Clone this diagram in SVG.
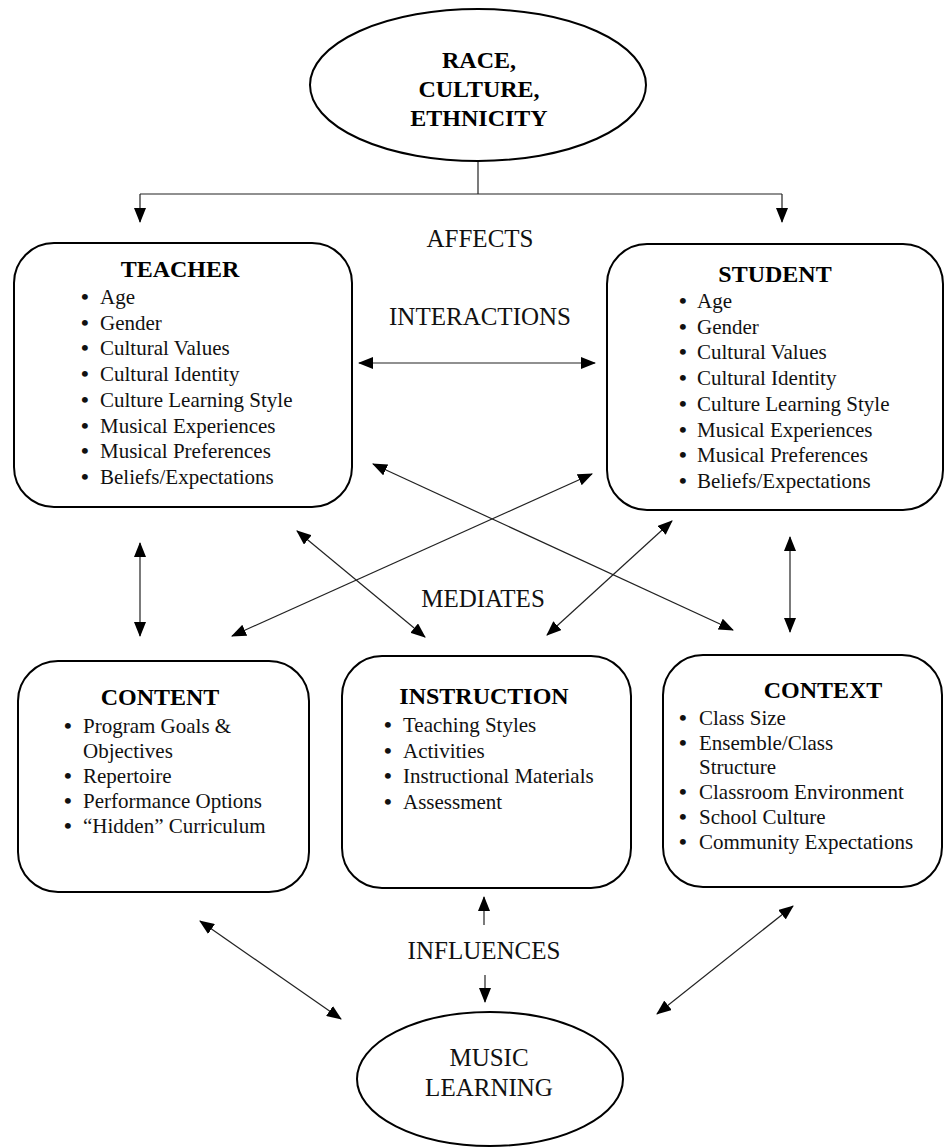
<svg xmlns="http://www.w3.org/2000/svg" width="945" height="1148" viewBox="0 0 945 1148">
<style>
.box{fill:#fff;stroke:#000;stroke-width:2}
.ell{fill:#fff;stroke:#000;stroke-width:2}
.ttl{font-family:"Liberation Serif","Times New Roman",serif;font-weight:bold;font-size:24px;text-anchor:middle;fill:#000}
.itm{font-family:"Liberation Serif","Times New Roman",serif;font-size:21px;fill:#111}
.b{font-weight:bold;font-size:22px}
.lbl{font-family:"Liberation Serif","Times New Roman",serif;font-size:25px;text-anchor:middle;fill:#111}
.ln{stroke:#222;stroke-width:1.2;fill:none}
</style>
<defs>
<marker id="ah" markerWidth="15" markerHeight="12" refX="14" refY="6" orient="auto-start-reverse" markerUnits="userSpaceOnUse">
<path d="M0,0 L15,6 L0,12 Z" fill="#000"/>
</marker>
</defs>

<g id="connectors">
<line class="ln" x1="478" y1="160" x2="478" y2="194"/>
<line class="ln" x1="140" y1="194" x2="782" y2="194"/>
<line class="ln" x1="140" y1="194" x2="140" y2="222" marker-end="url(#ah)"/>
<line class="ln" x1="782" y1="194" x2="782" y2="222" marker-end="url(#ah)"/>
<line class="ln" x1="359" y1="363" x2="595" y2="363" marker-start="url(#ah)" marker-end="url(#ah)"/>
<line class="ln" x1="140" y1="543" x2="140" y2="636" marker-start="url(#ah)" marker-end="url(#ah)"/>
<line class="ln" x1="790" y1="537" x2="790" y2="632" marker-start="url(#ah)" marker-end="url(#ah)"/>
<line class="ln" x1="373" y1="464" x2="733" y2="630" marker-start="url(#ah)" marker-end="url(#ah)"/>
<line class="ln" x1="592" y1="474" x2="232" y2="636" marker-start="url(#ah)" marker-end="url(#ah)"/>
<line class="ln" x1="297" y1="531" x2="425" y2="637" marker-start="url(#ah)" marker-end="url(#ah)"/>
<line class="ln" x1="672" y1="521" x2="547" y2="635" marker-start="url(#ah)" marker-end="url(#ah)"/>
<line class="ln" x1="484" y1="925" x2="484" y2="897" marker-end="url(#ah)"/>
<line class="ln" x1="485" y1="975" x2="485" y2="1002" marker-end="url(#ah)"/>
<line class="ln" x1="200" y1="921" x2="341" y2="1019" marker-start="url(#ah)" marker-end="url(#ah)"/>
<line class="ln" x1="793" y1="906" x2="657" y2="1014" marker-start="url(#ah)" marker-end="url(#ah)"/>
</g>

<g id="labels">
<text class="lbl" x="480" y="247">AFFECTS</text>
<text class="lbl" x="480" y="325">INTERACTIONS</text>
<text class="lbl" x="483" y="607">MEDIATES</text>
<text class="lbl" x="484" y="959">INFLUENCES</text>
</g>

<g id="race">
<ellipse class="ell" cx="478" cy="85" rx="168" ry="76"/>
<text class="ttl" x="479" y="68" font-size="25">RACE,</text>
<text class="ttl" x="479" y="97" font-size="25">CULTURE,</text>
<text class="ttl" x="479" y="126" font-size="25">ETHNICITY</text>
</g>

<g id="teacher">
<rect class="box" x="14" y="243" width="338" height="264" rx="40"/>
<text class="ttl" x="180" y="277">TEACHER</text>
<text class="itm" y="304"><tspan class="b" x="81">•</tspan><tspan x="100">Age</tspan></text>
<text class="itm" y="329.7"><tspan class="b" x="81">•</tspan><tspan x="100">Gender</tspan></text>
<text class="itm" y="355.4"><tspan class="b" x="81">•</tspan><tspan x="100">Cultural Values</tspan></text>
<text class="itm" y="381.1"><tspan class="b" x="81">•</tspan><tspan x="100">Cultural Identity</tspan></text>
<text class="itm" y="406.8"><tspan class="b" x="81">•</tspan><tspan x="100">Culture Learning Style</tspan></text>
<text class="itm" y="432.5"><tspan class="b" x="81">•</tspan><tspan x="100">Musical Experiences</tspan></text>
<text class="itm" y="458.2"><tspan class="b" x="81">•</tspan><tspan x="100">Musical Preferences</tspan></text>
<text class="itm" y="483.9"><tspan class="b" x="81">•</tspan><tspan x="100">Beliefs/Expectations</tspan></text>
</g>

<g id="student">
<rect class="box" x="607" y="244" width="336" height="266" rx="40"/>
<text class="ttl" x="775" y="282">STUDENT</text>
<text class="itm" y="308"><tspan class="b" x="679">•</tspan><tspan x="697">Age</tspan></text>
<text class="itm" y="333.7"><tspan class="b" x="679">•</tspan><tspan x="697">Gender</tspan></text>
<text class="itm" y="359.4"><tspan class="b" x="679">•</tspan><tspan x="697">Cultural Values</tspan></text>
<text class="itm" y="385.1"><tspan class="b" x="679">•</tspan><tspan x="697">Cultural Identity</tspan></text>
<text class="itm" y="410.8"><tspan class="b" x="679">•</tspan><tspan x="697">Culture Learning Style</tspan></text>
<text class="itm" y="436.5"><tspan class="b" x="679">•</tspan><tspan x="697">Musical Experiences</tspan></text>
<text class="itm" y="462.2"><tspan class="b" x="679">•</tspan><tspan x="697">Musical Preferences</tspan></text>
<text class="itm" y="487.9"><tspan class="b" x="679">•</tspan><tspan x="697">Beliefs/Expectations</tspan></text>
</g>

<g id="content">
<rect class="box" x="18" y="661" width="291" height="231" rx="40"/>
<text class="ttl" x="160" y="705">CONTENT</text>
<text class="itm" y="733"><tspan class="b" x="64">•</tspan><tspan x="83">Program Goals &amp;</tspan></text>
<text class="itm" x="83" y="758">Objectives</text>
<text class="itm" y="783"><tspan class="b" x="64">•</tspan><tspan x="83">Repertoire</tspan></text>
<text class="itm" y="808"><tspan class="b" x="64">•</tspan><tspan x="83">Performance Options</tspan></text>
<text class="itm" y="833"><tspan class="b" x="64">•</tspan><tspan x="83">“Hidden” Curriculum</tspan></text>
</g>

<g id="instruction">
<rect class="box" x="342" y="656" width="289" height="232" rx="40"/>
<text class="ttl" x="484" y="704">INSTRUCTION</text>
<text class="itm" y="732"><tspan class="b" x="384">•</tspan><tspan x="403">Teaching Styles</tspan></text>
<text class="itm" y="757.5"><tspan class="b" x="384">•</tspan><tspan x="403">Activities</tspan></text>
<text class="itm" y="783"><tspan class="b" x="384">•</tspan><tspan x="403">Instructional Materials</tspan></text>
<text class="itm" y="808.5"><tspan class="b" x="384">•</tspan><tspan x="403">Assessment</tspan></text>
</g>

<g id="context">
<rect class="box" x="663" y="655" width="279" height="232" rx="40"/>
<text class="ttl" x="823" y="698">CONTEXT</text>
<text class="itm" y="725"><tspan class="b" x="679">•</tspan><tspan x="699">Class Size</tspan></text>
<text class="itm" y="750"><tspan class="b" x="679">•</tspan><tspan x="699">Ensemble/Class</tspan></text>
<text class="itm" x="699" y="774">Structure</text>
<text class="itm" y="799"><tspan class="b" x="679">•</tspan><tspan x="699">Classroom Environment</tspan></text>
<text class="itm" y="824"><tspan class="b" x="679">•</tspan><tspan x="699">School Culture</tspan></text>
<text class="itm" y="849"><tspan class="b" x="679">•</tspan><tspan x="699">Community Expectations</tspan></text>
</g>

<g id="music-learning">
<ellipse class="ell" cx="490" cy="1079" rx="133" ry="67"/>
<text class="lbl" x="489" y="1066">MUSIC</text>
<text class="lbl" x="489" y="1096">LEARNING</text>
</g>
</svg>
